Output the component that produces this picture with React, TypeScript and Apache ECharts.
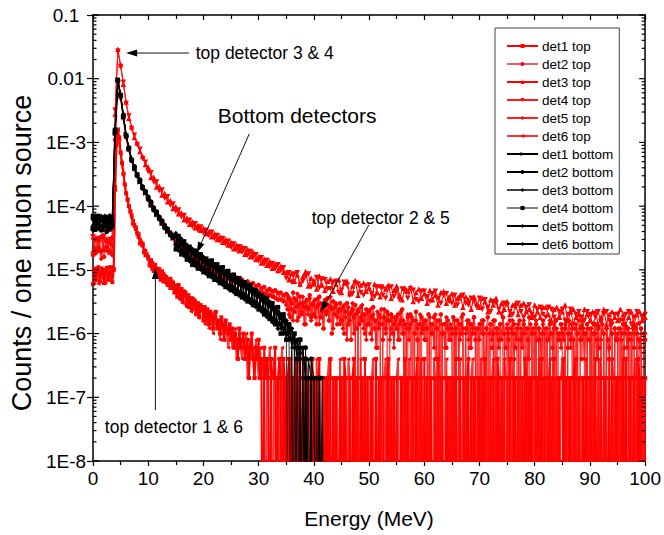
import React, { useEffect, useRef } from "react";
import * as echarts from "echarts";

// All series values are in units of 1e-7 counts per muon source; 0 = empty bin.
const UNIT = 1e-7;
const BIN_WIDTH = 0.5; // MeV per bin
const BIN_WIDTH_FINE = 0.25; // MeV per bin for finely binned ranges
const TAIL_START = 35; // MeV, start of the finely binned tails of top detectors 2 & 5
const ZERO_DRAW = 1e-12; // empty bins drop below the log floor
const FONT = "'Liberation Sans', Arial, Helvetica, sans-serif";

const yTickLabels = ["1E-8", "1E-7", "1E-6", "1E-5", "1E-4", "1E-3", "0.01", "0.1"];
const yMinorMultipliers = [2, 3, 4, 5, 6, 7, 8, 9];

// 0.25 MeV bins from 0 MeV
const det1Top = [
  60, 105, 70, 95, 110, 65, 90, 100, 62, 98, 108, 70, 88, 110, 64, 100,
  2000, 9000, 16000, 12000, 7000, 4800, 3200, 2200, 1600, 1250, 1000, 820,
  720, 530, 510, 440, 380, 330, 260, 270, 240, 190, 170, 175,
  150, 118, 142, 104, 96, 120, 84, 104, 92, 70, 95, 66, 80, 74, 58, 72, 52, 66, 60, 44,
  56, 38, 58, 36, 50, 32, 46, 44, 28, 40, 26, 36, 24, 34, 32, 20, 30, 18, 28, 26,
  16, 26, 16, 24, 14, 22, 20, 12, 18, 22, 12, 16, 10, 18, 14, 8, 16, 12, 10, 14,
  8, 12, 6, 10, 8, 4, 12, 6, 8, 10, 4, 6, 8, 2, 6, 10, 4, 2, 6, 4,
  8, 2, 4, 0, 6, 2, 4, 2, 0, 4, 2, 2, 6, 0, 2, 4, 2, 0, 4, 2,
  0, 2, 4, 0, 2, 0, 2, 4, 0, 2, 2, 0, 4, 0, 2, 2, 0, 0, 2, 4,
  0, 2, 0, 2, 4, 0, 0, 2, 0, 2, 2, 0, 4, 0, 2, 0, 2, 0, 0, 2,
  2, 0, 4, 2, 0, 0, 2, 0, 2, 4, 0, 2, 0, 0, 2, 2, 0, 4, 0, 2,
  0, 2, 2, 0, 0, 4, 0, 2, 0, 2, 2, 0, 0, 2, 4, 0, 2, 0, 2, 0,
  2, 0, 0, 2, 2, 0, 4, 0, 2, 0, 0, 2, 2, 0, 2, 4, 0, 0, 2, 0,
  4, 0, 2, 0, 2, 2, 0, 0, 2, 0, 4, 2, 0, 2, 0, 0, 2, 2, 0, 2,
  0, 2, 0, 4, 0, 2, 2, 0, 0, 2, 0, 2, 4, 0, 2, 0, 2, 0, 0, 2,
  2, 0, 2, 0, 4, 0, 0, 2, 2, 0, 2, 0, 0, 4, 2, 0, 2, 0, 2, 0,
  0, 2, 4, 0, 0, 2, 2, 0, 2, 0, 0, 2, 0, 4, 2, 0, 2, 2, 0, 0,
  2, 0, 2, 2, 0, 4, 0, 0, 2, 0, 2, 0, 2, 0, 4, 0, 0, 2, 2, 0,
  0, 4, 0, 2, 0, 2, 2, 0, 0, 2, 4, 0, 2, 0, 0, 2, 0, 2, 2, 0,
  2, 0, 0, 2, 4, 0, 2, 0, 2, 0, 0, 2, 2, 0, 4, 0, 2, 0, 0, 2,
  0, 2, 2, 0, 2, 0, 4, 0, 0, 2, 2, 0, 2, 0, 0, 4, 2, 0, 2, 0,
  2,
];

// 0.5 MeV bins, 0 to 34.5 MeV
const det2TopHead = [
  170, 300, 200, 330, 160, 280, 190, 320,
  11000, 88000, 50000, 24000, 12000, 7600, 5200, 3800, 3000, 2400, 1950, 1600,
  1400, 1020, 950, 730, 690, 530, 510, 400, 390, 315,
  310, 250, 255, 200, 210, 170, 175, 145, 155, 128,
  135, 110, 120, 98, 106, 88, 96, 80, 88, 72,
  82, 66, 76, 60, 70, 56, 66, 52, 62, 48,
  58, 44, 54, 40, 50, 38, 48, 34, 44, 32,
];
// 0.25 MeV bins, 35 to 100 MeV
const det2TopTail = [
  42, 24, 36, 18, 30, 44, 22, 34, 16, 28, 38, 20, 30, 26, 14, 34, 24, 40, 18, 28,
  20, 34, 14, 28, 38, 18, 24, 12, 30, 22, 36, 16, 26, 10, 32, 20, 28, 14, 24, 30,
  16, 26, 10, 22, 30, 14, 20, 8, 24, 18, 28, 12, 22, 0, 26, 16, 20, 10, 24, 14,
  22, 10, 18, 26, 12, 16, 6, 20, 14, 24, 8, 18, 12, 22, 0, 16, 20, 10, 14, 18,
  12, 20, 8, 16, 24, 10, 14, 0, 18, 12, 20, 0, 16, 10, 22, 8, 14, 0, 18, 12,
  16, 8, 12, 20, 0, 14, 10, 18, 4, 12, 16, 0, 20, 10, 0, 14, 6, 16, 12, 8,
  10, 18, 0, 12, 16, 4, 14, 10, 20, 0, 12, 0, 16, 6, 14, 10, 18, 8, 12, 0,
  14, 0, 16, 10, 2, 12, 18, 0, 14, 6, 10, 16, 0, 12, 8, 14, 0, 18, 10, 6,
  12, 8, 16, 0, 10, 14, 6, 12, 0, 16, 8, 10, 14, 0, 12, 8, 18, 0, 10, 12,
  0, 14, 8, 12, 2, 10, 16, 0, 12, 8, 0, 14, 10, 6, 12, 16, 0, 10, 8, 14,
  10, 0, 12, 16, 6, 10, 8, 14, 0, 12, 0, 10, 16, 8, 4, 12, 10, 0, 14, 8,
  12, 0, 10, 2, 14, 8, 12, 6, 16, 0, 10, 0, 12, 8, 6, 14, 10, 0, 12, 8,
  8, 12, 0, 10, 14, 6, 0, 12, 8, 10, 0, 14, 6, 12, 10, 2, 8, 12, 0, 10,
  8,
];

// 0.5 MeV bins from 0 MeV
const det3Top = [
  200, 320, 230, 340, 210, 300, 190, 330,
  28000, 290000, 165000, 82000, 43000, 24000, 17500, 12000, 9800, 7200, 6000, 4500,
  4100, 2850, 2850, 2000, 2050, 1500, 1580, 1170, 1230, 920,
  980, 760, 790, 610, 650, 520, 570, 460, 500, 420,
  450, 370, 400, 330, 370, 300, 330, 270, 300, 245,
  270, 215, 245, 200, 230, 175, 210, 160, 190, 145,
  162, 128, 148, 118, 135, 106, 124, 98, 114, 92,
  92, 70, 88, 66, 84, 60, 78, 94, 56, 74, 68, 50, 80, 58, 48, 66, 72, 46, 60, 70,
  44, 62, 66, 42, 56, 68, 40, 58, 62, 46, 52, 36, 60, 44, 38, 56, 50, 58, 36, 48,
  56, 40, 34, 52, 46, 54, 32, 44, 50, 36, 42, 30, 48, 34, 40, 28, 44, 46, 30, 38,
  42, 28, 36, 40, 26, 38, 34, 24, 38, 30, 26, 36, 32, 22, 34, 28, 36, 22, 30, 24,
  32, 20, 28, 30, 20, 28, 30, 22, 24, 18, 28, 22, 18, 26, 26, 20, 16, 24, 26, 18,
  22, 28, 16, 22, 24, 18, 20, 14, 24, 20, 16, 22, 22, 14, 18, 24, 14, 20, 22, 18,
  16, 24, 20, 14, 18, 22, 14, 20, 22, 16,
  18,
];

// 0.5 MeV bins from 0 MeV
const det4Top = [
  330, 210, 310, 190, 340, 220, 300, 240,
  32000, 270000, 155000, 88000, 41000, 26000, 16500, 13000, 9200, 7800, 5600, 4900,
  3500, 3350, 2400, 2400, 1750, 1800, 1330, 1400, 1040, 1080,
  830, 870, 680, 710, 560, 600, 480, 530, 420, 470,
  380, 420, 345, 390, 310, 345, 285, 310, 255, 280,
  225, 255, 205, 230, 190, 215, 170, 195, 155, 172,
  138, 155, 124, 140, 112, 126, 104, 120, 98, 108,
  74, 90, 64, 86, 90, 58, 66, 80, 86, 54, 58, 76, 52, 72, 70, 50, 50, 64, 66, 44,
  48, 64, 58, 40, 42, 62, 60, 44, 40, 56, 58, 42, 38, 54, 54, 40, 36, 52, 54, 38,
  46, 34, 50, 46, 36, 50, 48, 34, 32, 46, 46, 38, 32, 42, 46, 36, 30, 40, 42, 32,
  30, 40, 28, 36, 40, 30, 28, 36, 32, 26, 36, 24, 34, 26, 22, 32, 30, 24, 20, 30,
  28, 22, 20, 26, 30, 22, 18, 26, 28, 20, 18, 24, 26, 20, 18, 26, 24, 18, 16, 22,
  24, 16, 20, 24, 14, 20, 22, 18, 16, 22, 20, 14, 18, 22, 16, 20, 22, 16, 14, 20,
  20, 16, 16, 20, 22, 14, 18, 22, 14, 18,
  20,
];

// 0.5 MeV bins, 0 to 34.5 MeV
const det5TopHead = [
  310, 180, 290, 150, 320, 200, 270, 170,
  13000, 92000, 53000, 25500, 12600, 7800, 5100, 3950, 2950, 2450, 1900, 1650,
  1250, 1150, 860, 800, 620, 580, 460, 440, 350, 345,
  280, 280, 225, 230, 182, 188, 158, 162, 136, 142,
  118, 124, 104, 110, 92, 98, 84, 90, 76, 82,
  70, 78, 64, 70, 58, 64, 54, 60, 50, 56,
  46, 52, 42, 48, 40, 46, 36, 44, 34, 40,
];
// 0.25 MeV bins, 35 to 100 MeV
const det5TopTail = [
  28, 40, 20, 34, 24, 16, 36, 26, 42, 18, 30, 22, 38, 14, 32, 26, 20, 36, 16, 30,
  32, 18, 26, 36, 14, 30, 22, 12, 34, 20, 28, 16, 38, 24, 12, 26, 30, 18, 22, 14,
  24, 12, 28, 18, 8, 26, 16, 22, 30, 10, 20, 0, 24, 14, 18, 28, 12, 20, 8, 22,
  14, 24, 8, 20, 16, 6, 22, 12, 18, 0, 14, 24, 10, 16, 20, 8, 12, 18, 6, 16,
  18, 8, 14, 22, 10, 16, 0, 12, 20, 8, 14, 18, 0, 10, 16, 12, 0, 20, 10, 14,
  8, 16, 12, 0, 18, 10, 14, 6, 20, 12, 0, 16, 0, 14, 10, 6, 18, 12, 8, 14,
  12, 0, 16, 10, 0, 14, 8, 18, 12, 0, 10, 16, 8, 14, 6, 12, 18, 10, 0, 12,
  8, 14, 10, 16, 0, 12, 0, 10, 14, 8, 16, 0, 12, 10, 6, 14, 8, 18, 10, 0,
  14, 10, 0, 12, 16, 4, 10, 8, 14, 0, 12, 6, 16, 10, 0, 12, 4, 14, 10, 0,
  10, 16, 0, 12, 8, 4, 14, 10, 0, 12, 8, 16, 0, 10, 14, 0, 12, 8, 10, 6,
  12, 8, 14, 0, 10, 16, 6, 12, 8, 0, 14, 10, 0, 12, 8, 16, 4, 10, 12, 0,
  8, 12, 0, 14, 10, 4, 12, 0, 8, 14, 10, 0, 12, 8, 4, 16, 10, 0, 12, 8,
  10, 0, 12, 8, 2, 14, 10, 6, 12, 0, 8, 12, 10, 0, 14, 8, 6, 12, 0, 8,
  10,
];

// 0.25 MeV bins from 0 MeV
const det6Top = [
  100, 66, 92, 110, 60, 86, 108, 72, 96, 62, 90, 112, 68, 94, 80, 104,
  1800, 10000, 15500, 11000, 6500, 4500, 3300, 2100, 1550, 1300, 950, 850,
  640, 590, 460, 470, 350, 370, 300, 240, 260, 205, 200, 160,
  160, 135, 110, 130, 92, 112, 100, 78, 104, 82, 68, 88, 62, 78, 70, 56, 74, 50, 64, 58,
  42, 54, 48, 34, 50, 30, 44, 38, 26, 40, 34, 22, 36, 28, 20, 30, 26, 18, 26, 22,
  24, 14, 20, 22, 12, 18, 16, 10, 22, 14, 12, 16, 8, 14, 12, 8, 16, 10, 6, 12,
  10, 6, 8, 12, 4, 8, 10, 6, 4, 8, 6, 10, 2, 6, 8, 4, 6, 2, 8, 4,
  2, 6, 2, 4, 2, 0, 4, 2, 6, 2, 0, 4, 2, 2, 0, 4, 2, 6, 0, 2,
  2, 0, 2, 4, 0, 2, 0, 0, 2, 4, 2, 0, 2, 0, 4, 0, 2, 2, 0, 2,
  2, 0, 4, 0, 2, 0, 0, 2, 2, 0, 2, 4, 0, 0, 2, 2, 0, 2, 0, 4,
  0, 2, 0, 2, 0, 4, 2, 0, 0, 2, 2, 0, 2, 0, 4, 0, 2, 0, 2, 2,
  0, 0, 2, 4, 0, 2, 0, 2, 2, 0, 0, 2, 4, 0, 2, 0, 0, 2, 2, 0,
  2, 4, 0, 0, 2, 0, 2, 2, 0, 4, 0, 2, 0, 0, 2, 2, 0, 2, 4, 0,
  0, 2, 2, 0, 2, 0, 0, 4, 2, 0, 2, 0, 2, 2, 0, 0, 4, 0, 2, 0,
  2, 0, 2, 2, 0, 0, 4, 0, 2, 2, 0, 2, 0, 0, 2, 4, 0, 2, 0, 2,
  0, 4, 0, 2, 2, 0, 2, 0, 0, 2, 4, 0, 2, 2, 0, 0, 2, 0, 4, 2,
  2, 0, 2, 0, 2, 4, 0, 0, 2, 2, 0, 2, 0, 4, 0, 2, 0, 2, 2, 0,
  0, 2, 0, 4, 2, 0, 2, 2, 0, 0, 2, 4, 0, 2, 0, 2, 0, 0, 2, 2,
  4, 0, 2, 0, 0, 2, 2, 0, 2, 4, 0, 0, 2, 0, 2, 2, 0, 4, 0, 2,
  0, 2, 2, 0, 2, 0, 0, 4, 2, 0, 2, 2, 0, 0, 2, 0, 4, 2, 0, 2,
  2, 0, 0, 2, 4, 0, 2, 0, 2, 2, 0, 0, 2, 4, 0, 2, 0, 2, 0, 0,
  2,
];

// bottom detectors: 0.5 MeV bins from 0 MeV
const det1Bottom = [
  450, 680, 520, 610, 420, 700, 480, 640,
  14000, 97000, 56000, 25000, 13500, 7800, 5600, 3900, 3200, 2400, 2100, 1600,
  1450, 1020, 980, 730, 700, 530, 510, 395, 390, 310,
  330, 225, 270, 180, 215, 150, 190, 125, 165, 110,
  140, 95, 125, 82, 112, 72, 98, 64, 88, 55,
  76, 50, 66, 43, 60, 38, 53, 33, 46, 28,
  40, 24, 34, 20, 28, 16, 24, 14, 18, 12,
  16, 10, 12, 8, 0, 6, 6, 0, 4, 2,
  2, 0, 0, 0, 0,
];

const det2Bottom = [
  640, 430, 700, 470, 660, 400, 620, 510,
  16000, 92000, 54000, 27000, 12500, 8300, 5200, 4200, 3000, 2600, 1900, 1700,
  1280, 1170, 870, 820, 630, 590, 455, 440, 350, 345,
  250, 300, 200, 245, 165, 205, 140, 180, 118, 158,
  102, 138, 88, 122, 78, 105, 70, 94, 60, 84,
  54, 72, 46, 65, 41, 57, 36, 50, 31, 42,
  27, 36, 23, 31, 19, 26, 16, 22, 14, 18,
  10, 14, 8, 0, 6, 8, 0, 6, 0, 4,
  2, 0, 2, 0, 0,
];

const det3Bottom = [
  500, 720, 440, 590, 690, 460, 560, 700,
  15500, 94000, 57000, 26500, 13200, 7900, 5500, 4100, 3050, 2550, 2050, 1620,
  1400, 1060, 950, 760, 680, 545, 495, 410, 380, 322,
  380, 200, 310, 165, 250, 135, 215, 115, 185, 100,
  160, 86, 140, 76, 124, 66, 110, 58, 96, 50,
  84, 44, 74, 39, 66, 34, 58, 30, 50, 26,
  44, 22, 38, 18, 32, 16, 26, 12, 20, 10,
  16, 0, 12, 6, 8, 0, 6, 2, 0, 2,
  0, 2, 0, 0, 0,
];

const det4Bottom = [
  700, 480, 610, 420, 560, 660, 430, 590,
  14500, 96000, 55500, 25500, 12800, 8100, 5300, 3950, 3150, 2450, 1950, 1680,
  1310, 1130, 895, 800, 645, 575, 470, 430, 360, 338,
  210, 340, 175, 280, 145, 230, 120, 200, 105, 175,
  92, 150, 80, 140, 70, 122, 62, 110, 54, 96,
  48, 84, 42, 74, 37, 64, 32, 58, 28, 48,
  24, 40, 20, 36, 17, 30, 14, 26, 10, 20,
  8, 14, 0, 10, 4, 8, 0, 4, 2, 0,
  0, 0, 2, 0, 0,
];

const det5Bottom = [
  420, 600, 690, 450, 640, 520, 710, 460,
  15200, 93000, 54500, 26200, 13100, 8050, 5450, 4050, 3080, 2520, 2020, 1640,
  1380, 1090, 940, 770, 670, 555, 488, 415, 375, 326,
  350, 230, 260, 180, 230, 150, 195, 130, 170, 105,
  150, 92, 130, 80, 115, 70, 100, 62, 90, 52,
  80, 48, 70, 42, 62, 37, 56, 32, 48, 28,
  42, 23, 36, 19, 30, 15, 24, 12, 20, 10,
  16, 8, 12, 6, 8, 4, 6, 2, 0, 2,
  0, 0, 0, 2, 0,
];

const det6Bottom = [
  610, 510, 460, 720, 480, 600, 500, 680,
  14800, 95000, 55000, 26000, 12900, 7950, 5350, 4000, 3120, 2480, 1980, 1660,
  1330, 1120, 905, 790, 650, 565, 472, 425, 362, 334,
  240, 310, 190, 260, 160, 215, 135, 190, 115, 165,
  98, 140, 90, 125, 76, 108, 68, 96, 60, 86,
  52, 74, 46, 66, 40, 58, 35, 52, 30, 44,
  26, 38, 22, 32, 18, 26, 14, 22, 12, 16,
  8, 14, 6, 10, 4, 6, 0, 4, 0, 2,
  2, 0, 0, 0, 0,
];

const seg = (values: number[], start = 0, bin = BIN_WIDTH) => ({ values, start, bin });

const seriesDefs = [
  { name: "det1 top", segments: [seg(det1Top, 0, BIN_WIDTH_FINE)], color: "#ff0000", line: "#ff0000", width: 2, symbol: "rect", rotate: 0, size: 4 },
  { name: "det2 top", segments: [seg(det2TopHead), seg(det2TopTail, TAIL_START, BIN_WIDTH_FINE)], color: "#ff0000", line: "rgba(255,0,0,0.65)", width: 1.6, symbol: "circle", rotate: 0, size: 4.5 },
  { name: "det3 top", segments: [seg(det3Top)], color: "#ff0000", line: "#ff0000", width: 1.1, symbol: "triangle", rotate: 0, size: 5.5 },
  { name: "det4 top", segments: [seg(det4Top)], color: "#ff0000", line: "#ff1a1a", width: 1.1, symbol: "triangle", rotate: 180, size: 5.5 },
  { name: "det5 top", segments: [seg(det5TopHead), seg(det5TopTail, TAIL_START, BIN_WIDTH_FINE)], color: "#ff0000", line: "#ff2020", width: 1.4, symbol: "diamond", rotate: 0, size: 5 },
  { name: "det6 top", segments: [seg(det6Top, 0, BIN_WIDTH_FINE)], color: "#ff0000", line: "rgba(255,0,0,0.8)", width: 2, symbol: "triangle", rotate: 90, size: 4 },
  { name: "det1 bottom", segments: [seg(det1Bottom)], color: "#000000", line: "#000000", width: 1.1, symbol: "triangle", rotate: -90, size: 5 },
  { name: "det2 bottom", segments: [seg(det2Bottom)], color: "#000000", line: "#000000", width: 1.1, symbol: "circle", rotate: 0, size: 5 },
  { name: "det3 bottom", segments: [seg(det3Bottom)], color: "#000000", line: "rgba(0,0,0,0.75)", width: 1.1, symbol: "diamond", rotate: 0, size: 4.5 },
  { name: "det4 bottom", segments: [seg(det4Bottom)], color: "#000000", line: "rgba(0,0,0,0.5)", width: 1.6, symbol: "rect", rotate: 0, size: 4.5 },
  { name: "det5 bottom", segments: [seg(det5Bottom)], color: "#000000", line: "#000000", width: 1.1, symbol: "diamond", rotate: 0, size: 5 },
  { name: "det6 bottom", segments: [seg(det6Bottom)], color: "#000000", line: "#000000", width: 1.1, symbol: "diamond", rotate: 0, size: 3.5 },
];

// Annotations anchored in data space: [energy, counts]
const annotations = [
  { text: "top detector 3 & 4", fontSize: 17.5, textAt: [18.6, 0.0253], from: [17.4, 0.0253], to: [6.0, 0.0253] },
  { text: "Bottom detectors", fontSize: 21, textAt: [22.6, 2.69e-3], from: [28.3, 1.36e-3], to: [18.8, 1.84e-5] },
  { text: "top detector 2 & 5", fontSize: 17.5, textAt: [39.6, 6.46e-5], from: [49.95, 5.05e-5], to: [41.2, 2.19e-6] },
  { text: "top detector 1 & 6", fontSize: 17.5, textAt: [2.15, 3.47e-8], from: [11.3, 6.3e-8], to: [11.3, 1.07e-5] },
];

const AXIS_COLOR = "#000";

function buildOption() {
  const lineSeries = seriesDefs.map((d, k) => {
    const data: number[][] = [];
    d.segments.forEach((s) =>
      s.values.forEach((v, i) => data.push([s.start + i * s.bin, v > 0 ? v * UNIT : ZERO_DRAW]))
    );
    return {
      type: "line",
      name: d.name,
      xAxisIndex: 0,
      yAxisIndex: 0,
      data,
      symbol: d.symbol,
      symbolSize: d.size,
      symbolRotate: d.rotate,
      showSymbol: true,
      clip: true,
      silent: true,
      z: k < 6 ? 2 : 3,
      itemStyle: { color: d.color },
      lineStyle: { color: d.line, width: d.width },
      emphasis: { disabled: true },
    };
  });

  const yTickData: number[][] = [];
  for (let e = -8; e <= -2; e++) {
    yTickData.push([0, Math.pow(10, e), 1]);
    yMinorMultipliers.forEach((m) => yTickData.push([0, m * Math.pow(10, e), 0]));
  }
  yTickData.push([0, 0.1, 1]);

  const tickSeries = {
    type: "custom",
    name: "yTicks",
    silent: true,
    xAxisIndex: 0,
    yAxisIndex: 0,
    coordinateSystem: "cartesian2d",
    clip: false,
    z: 5,
    encode: { x: 0, y: 1 },
    data: yTickData,
    renderItem: (_params: any, api: any) => {
      const v = api.value(1);
      const major = api.value(2);
      const l = api.coord([0, v]);
      const r = api.coord([100, v]);
      const len = major ? 6 : 3.5;
      const st = { stroke: AXIS_COLOR, lineWidth: 1.2 };
      return {
        type: "group",
        children: [
          { type: "line", shape: { x1: l[0], y1: l[1], x2: l[0] + len, y2: l[1] }, style: st },
          { type: "line", shape: { x1: r[0] - len, y1: r[1], x2: r[0], y2: r[1] }, style: st },
        ],
      };
    },
  };

  const axisLine = { show: true, onZero: false, lineStyle: { color: AXIS_COLOR, width: 1.5 } };
  const tickLine = { color: AXIS_COLOR, width: 1.2 };

  return {
    animation: false,
    backgroundColor: "#ffffff",
    textStyle: { fontFamily: FONT },
    grid: { left: 93, right: 13, top: 15, bottom: 74 },
    legend: {
      orient: "vertical",
      left: 495,
      top: 28,
      data: seriesDefs.map((d) => d.name),
      itemWidth: 31,
      itemHeight: 5,
      itemGap: 4,
      padding: [11, 6, 3, 11],
      borderColor: "#444",
      borderWidth: 1,
      borderRadius: 0,
      backgroundColor: "#ffffff",
      selectedMode: false,
      textStyle: { fontSize: 13.5, color: "#000", fontFamily: FONT, padding: [0, 0, 0, -1] },
    },
    xAxis: [
      {
        type: "value",
        min: 0,
        max: 100,
        interval: 10,
        position: "bottom",
        name: "Energy (MeV)",
        nameLocation: "middle",
        nameGap: 47,
        nameTextStyle: { fontSize: 21, color: "#000", fontFamily: FONT },
        axisLine,
        axisTick: { show: true, length: 5, lineStyle: tickLine },
        minorTick: { show: true, splitNumber: 2, length: 4, lineStyle: tickLine },
        axisLabel: { fontSize: 19, color: "#000", margin: 8, fontFamily: FONT },
        splitLine: { show: false },
        minorSplitLine: { show: false },
      },
      {
        type: "value",
        min: 0,
        max: 100,
        interval: 10,
        position: "top",
        axisLine,
        axisTick: { show: true, inside: true, length: 5, lineStyle: tickLine },
        minorTick: { show: true, splitNumber: 2, length: 4, lineStyle: tickLine },
        axisLabel: { show: false },
        splitLine: { show: false },
      },
    ],
    yAxis: [
      {
        type: "log",
        logBase: 10,
        min: 1e-8,
        max: 0.1,
        splitNumber: 7,
        position: "left",
        name: "Counts / one muon source",
        nameLocation: "middle",
        nameGap: 57,
        nameTextStyle: { fontSize: 27, color: "#000", fontFamily: FONT, padding: [0, 30, 0, 0] },
        axisLine,
        axisTick: { show: true, length: 6, lineStyle: tickLine },
        axisLabel: {
          fontSize: 19,
          color: "#000",
          fontFamily: FONT,
          align: "center",
          margin: 27,
          formatter: (v: number) => yTickLabels[Math.round(Math.log10(v)) + 8] ?? "",
        },
        splitLine: { show: false },
      },
      {
        type: "log",
        logBase: 10,
        min: 1e-8,
        max: 0.1,
        splitNumber: 7,
        position: "right",
        axisLine,
        axisTick: { show: false },
        axisLabel: { show: false },
        splitLine: { show: false },
      },
    ],
    series: [...lineSeries, tickSeries],
  };
}

const HEAD_LEN = 11;
const HEAD_HALF = 3.5;

export default function App() {
  const ref = useRef<HTMLDivElement>(null);
  useEffect(() => {
    document.body.style.margin = "0";
    if (!ref.current) return;
    const chart = echarts.init(ref.current, undefined, { renderer: "svg" });
    chart.setOption(buildOption() as any);

    const toPx = (p: number[]) =>
      chart.convertToPixel({ xAxisIndex: 0, yAxisIndex: 0 } as any, p) as unknown as number[];
    const graphics: any[] = [];
    annotations.forEach((a) => {
      const t = toPx(a.textAt);
      graphics.push({
        type: "text",
        x: t[0],
        y: t[1],
        z: 100,
        silent: true,
        style: { text: a.text, fontSize: a.fontSize, fontFamily: FONT, fill: "#000", align: "left", verticalAlign: "middle" },
      });
      const f = toPx(a.from);
      const tip = toPx(a.to);
      const dx = tip[0] - f[0];
      const dy = tip[1] - f[1];
      const L = Math.hypot(dx, dy) || 1;
      const ux = dx / L;
      const uy = dy / L;
      const bx = tip[0] - ux * HEAD_LEN;
      const by = tip[1] - uy * HEAD_LEN;
      graphics.push({
        type: "line",
        z: 100,
        silent: true,
        shape: { x1: f[0], y1: f[1], x2: bx, y2: by },
        style: { stroke: "#111", lineWidth: 1 },
      });
      graphics.push({
        type: "polygon",
        z: 100,
        silent: true,
        shape: {
          points: [
            [tip[0], tip[1]],
            [bx - uy * HEAD_HALF, by + ux * HEAD_HALF],
            [bx + uy * HEAD_HALF, by - ux * HEAD_HALF],
          ],
        },
        style: { fill: "#000" },
      });
    });
    chart.setOption({ graphic: graphics });
    return () => chart.dispose();
  }, []);
  return <div ref={ref} style={{ width: 664, height: 535 }} />;
}
